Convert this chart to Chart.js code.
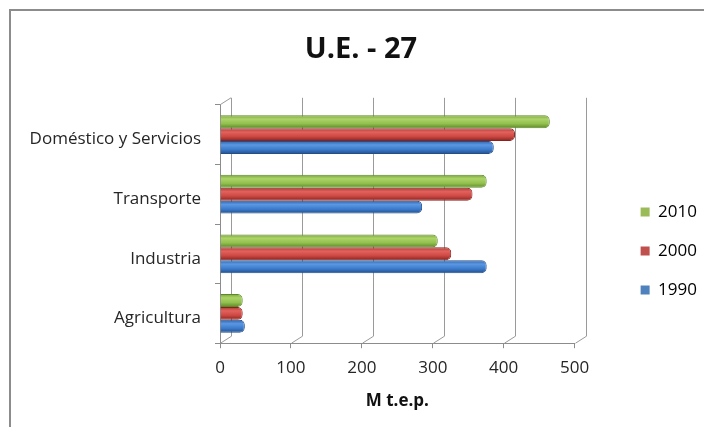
<!DOCTYPE html>
<html>
<head>
<meta charset="utf-8">
<script src="https://cdn.jsdelivr.net/npm/chart.js@4/dist/chart.umd.min.js"></script>
<style>
  html, body { margin: 0; padding: 0; background: #fff; }
  #wrap { position: relative; width: 704px; height: 427px; overflow: hidden; }
  #frame { position: absolute; left: 9px; top: 9px; width: 740px; height: 460px;
           border-left: 2px solid #8c8c8c; border-top: 2px solid #8c8c8c; }
  canvas { position: absolute; left: 0; top: 0; }
</style>
</head>
<body>
<div id="wrap">
  <div id="frame"></div>
  <canvas id="chart" width="704" height="427"></canvas>
</div>
<script>
// data
const categories = ['Doméstico y Servicios', 'Transporte', 'Industria', 'Agricultura'];
const years = ['2010', '2000', '1990'];
const v2010 = [465, 376, 307, 32];
const v2000 = [416, 356, 326, 32];
const v1990 = [386, 285, 376, 35];
const xTicks = [0, 100, 200, 300, 400, 500];

const FONT = "'Open Sans', sans-serif";
const CAT_PCT = 0.65;
const DX = 11, DY = -7; // fake 3d depth

const solid = ['#9bbb59', '#c0504d', '#4f81bd'];
const shades = [
  ['#7aa53c', '#acd468', '#93c04e', '#5c8a28'],
  ['#a93934', '#e2625d', '#cc4843', '#86231f'],
  ['#2d64ae', '#5b97e2', '#3c7bcc', '#234e89']
];

// cylinder-like shading for each bar, positioned from the category scale
function barFill(i) {
  return (c) => {
    const y = c.chart.scales.y;
    if (!y || y.bottom == null || c.dataIndex == null) return solid[i];
    const band = (y.bottom - y.top) / categories.length;
    const thick = band * CAT_PCT / years.length;
    const cy = y.getPixelForValue(c.dataIndex) - band * CAT_PCT / 2 + thick * (c.datasetIndex + 0.5);
    const g = c.chart.ctx.createLinearGradient(0, cy - thick / 2, 0, cy + thick / 2);
    g.addColorStop(0, shades[i][0]);
    g.addColorStop(0.3, shades[i][1]);
    g.addColorStop(0.65, shades[i][2]);
    g.addColorStop(1, shades[i][3]);
    return g;
  };
}

const depthPlugin = {
  id: 'depth',
  afterLayout(chart) {
    // legend sits further right and lower than chart.js puts it
    const L = chart.legend;
    const w = L.right - L.left;
    L.left = chart.chartArea.right + 44;
    L.right = L.left + w;
    L.top = 151;
    L.bottom = 351;
    const T = chart.titleBlock;
    T.left = 18;
    T.right = 704;
  },
  beforeDatasetsDraw(chart) {
    const { ctx, chartArea: a, scales: { x } } = chart;
    ctx.save();
    ctx.strokeStyle = '#9a9a9a';
    ctx.lineWidth = 1;
    x.ticks.forEach((t, i) => {
      const px = Math.round(x.getPixelForTick(i)) + 0.5;
      ctx.beginPath();
      ctx.moveTo(px, a.bottom);
      ctx.lineTo(px + DX, a.bottom + DY);
      ctx.lineTo(px + DX, a.top + DY);
      ctx.stroke();
    });
    ctx.beginPath();
    ctx.moveTo(a.left, a.top);
    ctx.lineTo(a.left + DX, a.top + DY);
    ctx.stroke();
    ctx.restore();
  }
};

const seriesValues = [v2010, v2000, v1990];

new Chart(document.getElementById('chart'), {
  type: 'bar',
  data: {
    labels: categories,
    datasets: years.map((yr, i) => ({
      label: yr,
      data: seriesValues[i],
      backgroundColor: barFill(i),
      borderColor: shades[i][3],
      borderWidth: 1,
      borderSkipped: 'start',
      borderRadius: 5,
      categoryPercentage: CAT_PCT,
      barPercentage: 1
    }))
  },
  options: {
    indexAxis: 'y',
    responsive: false,
    animation: false,
    layout: { padding: { left: 10, right: 41, top: 0, bottom: 12 } },
    plugins: {
      title: {
        display: true,
        text: 'U.E. - 27',
        color: '#111',
        font: { family: FONT, size: 29, weight: 'bold' },
        padding: { top: 32, bottom: 38 }
      },
      legend: {
        position: 'right',
        labels: {
          color: '#262626',
          font: { family: FONT, size: 17 },
          boxWidth: 9,
          boxHeight: 9,
          padding: 22,
          generateLabels: (chart) => years.map((yr, i) => ({
            text: yr, fillStyle: solid[i], strokeStyle: solid[i], lineWidth: 0, datasetIndex: i
          }))
        }
      },
      tooltip: { enabled: false }
    },
    scales: {
      x: {
        min: 0,
        max: 500,
        afterBuildTicks: (s) => { s.ticks = xTicks.map(v => ({ value: v })); },
        ticks: { color: '#262626', font: { family: FONT, size: 17 }, padding: 10 },
        grid: { drawOnChartArea: false, color: '#8c8c8c', tickLength: 5 },
        border: { color: '#8c8c8c' },
        title: {
          display: true,
          text: 'M t.e.p.',
          color: '#111',
          font: { family: FONT, size: 17, weight: 'bold' },
          padding: { top: 2 }
        }
      },
      y: {
        afterFit: (s) => { s.width = 210; },
        ticks: { color: '#262626', font: { family: FONT, size: 17 }, padding: 14, labelOffset: 5 },
        grid: { drawOnChartArea: false, color: '#8c8c8c', tickLength: 5 },
        border: { color: '#8c8c8c' }
      }
    }
  },
  plugins: [depthPlugin]
});
</script>
</body>
</html>
